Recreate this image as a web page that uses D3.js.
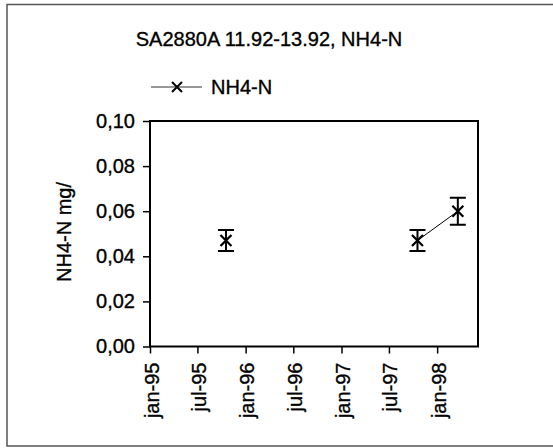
<!DOCTYPE html>
<html><head><meta charset="utf-8">
<script src="https://cdn.jsdelivr.net/npm/d3@7"></script>
<style>body{margin:0;background:#fff}svg{display:block}text{font-family:Arial,"Liberation Sans",sans-serif;fill:#000;stroke:#000;stroke-width:0.35px}</style>
</head><body><svg id="c" width="553" height="448"></svg>
<script>
const title = "SA2880A 11.92-13.92, NH4-N";
const seriesName = "NH4-N";
const yTitle = "NH4-N mg/";
const dates = ["1995-10-18", "1997-10-18", "1998-03-21"];
const values = [0.047, 0.047, 0.060];
const errors = [0.0047, 0.0047, 0.006];
const connected = [false, true, true];
const xTicks = ["1995-01-01","1995-07-01","1996-01-01","1996-07-01","1997-01-01","1997-07-01","1998-01-01"];
const xTickLabels = ["jan-95","jul-95","jan-96","jul-96","jan-97","jul-97","jan-98"];
const yTicks = [0, 0.02, 0.04, 0.06, 0.08, 0.10];
const xDomain = ["1995-01-01", "1998-06-06"];
const yDomain = [0, 0.10];

const parse = d3.utcParse("%Y-%m-%d");
const svg = d3.select("#c");
const L = 150, R = 478, T = 121, B = 346.5;
const x = d3.scaleUtc().domain(xDomain.map(parse)).range([L, R]);
const y = d3.scaleLinear().domain(yDomain).range([B, T]);
const fs = 20;

// outer frame
svg.append("rect").attr("x", 7).attr("y", 4.5).attr("width", 620).attr("height", 441.5)
  .attr("fill", "none").attr("stroke", "#555").attr("stroke-width", 1.5);

svg.append("text").attr("x", 269).attr("y", 46).attr("text-anchor", "middle")
  .style("font-size", fs + "px").text(title);

// legend
const ly = 87;
svg.append("line").attr("x1", 151).attr("x2", 202).attr("y1", ly).attr("y2", ly)
  .attr("stroke", "#333").attr("stroke-width", 1);
const xs = 5;
svg.append("path").attr("d", `M${177-xs},${ly-xs}L${177+xs},${ly+xs}M${177-xs},${ly+xs}L${177+xs},${ly-xs}`)
  .attr("stroke", "#000").attr("stroke-width", 2);
svg.append("text").attr("x", 211).attr("y", ly + 7).style("font-size", fs + "px").text(seriesName);

// axes
const yAxis = d3.axisLeft(y).tickValues(yTicks).tickSize(7).tickPadding(8)
  .tickFormat(d => d3.format(".2f")(d).replace(".", ","));
const gy = svg.append("g").attr("transform", `translate(${L},0)`).call(yAxis);
gy.select(".domain").remove();
gy.selectAll("line").attr("stroke", "#000").attr("stroke-width", 1.5);
gy.selectAll("text").style("font-size", fs + "px").attr("font-family", null);

const xAxis = d3.axisBottom(x).tickValues(xTicks.map(parse)).tickSize(7)
  .tickFormat((d, i) => xTickLabels[i]);
const gx = svg.append("g").attr("transform", `translate(0,${B})`).call(xAxis);
gx.select(".domain").remove();
gx.selectAll("line").attr("stroke", "#000").attr("stroke-width", 1.5);
gx.selectAll("text").style("font-size", fs + "px").attr("font-family", null)
  .attr("text-anchor", "end").attr("transform", "rotate(-90)")
  .attr("x", -16).attr("y", 1).attr("dy", "0.35em");

// plot frame
svg.append("rect").attr("x", L).attr("y", T).attr("width", R - L).attr("height", B - T)
  .attr("fill", "none").attr("stroke", "#000").attr("stroke-width", 2);

svg.append("text").attr("transform", `translate(71,232) rotate(-90)`).attr("text-anchor", "middle")
  .style("font-size", fs + "px").text(yTitle);

const data = dates.map((d, i) => ({ t: parse(d), v: values[i], e: errors[i], c: connected[i] }));

// line (only connected segments)
const line = d3.line().defined(d => d.c).x(d => x(d.t)).y(d => y(d.v));
svg.append("path").datum(data).attr("d", line).attr("fill", "none").attr("stroke", "#000").attr("stroke-width", 1);

// error bars
const cw = 8;
const eg = svg.append("g").attr("stroke", "#000").attr("stroke-width", 2).attr("fill", "none");
data.forEach(d => {
  const cx = x(d.t), y1 = y(d.v + d.e), y0 = y(d.v - d.e);
  eg.append("path").attr("d", `M${cx},${y1}L${cx},${y0}M${cx-cw},${y1}L${cx+cw},${y1}M${cx-cw},${y0}L${cx+cw},${y0}`);
});
// markers
const ms = 5.5;
data.forEach(d => {
  const cx = x(d.t), cy = y(d.v);
  svg.append("path").attr("d", `M${cx-ms},${cy-ms}L${cx+ms},${cy+ms}M${cx-ms},${cy+ms}L${cx+ms},${cy-ms}`)
    .attr("stroke", "#000").attr("stroke-width", 2.2);
});
</script></body></html>
